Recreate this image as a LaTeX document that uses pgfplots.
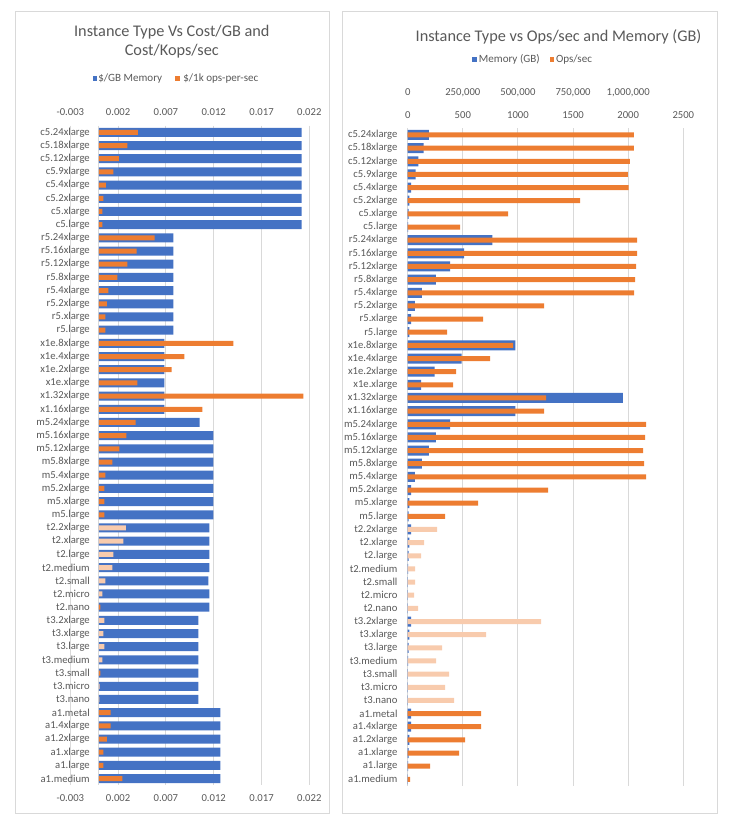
\documentclass[border=0pt]{standalone}
\usepackage{pgfplots}
\pgfplotsset{compat=1.18}
\usepackage{fontspec}
\setmainfont{Carlito}

\definecolor{xblue}{HTML}{4472C4}
\definecolor{xorange}{HTML}{ED7D31}
\definecolor{xpeach}{HTML}{F8CBAD}
\definecolor{txt}{HTML}{595959}
\definecolor{gridc}{HTML}{D9D9D9}

\pgfplotsset{
  excel/.style={
    scale only axis, anchor=north west,
    y dir=reverse, ymin=-0.5, ymax=49.5,
    scaled x ticks=false,
    axis line style={draw=none},
    tick style={draw=none},
    tick label style={font=\fontsize{8}{9}\selectfont, text=txt},
    xticklabel style={inner sep=0pt, anchor=base},
    major grid style={gridc, line width=0.75pt},
  },
  catlabels/.style={ytick={0,...,49},
    yticklabel style={anchor=east, inner sep=0pt},
    yticklabels={c5.24xlarge,c5.18xlarge,c5.12xlarge,c5.9xlarge,c5.4xlarge,c5.2xlarge,c5.xlarge,c5.large,
      r5.24xlarge,r5.16xlarge,r5.12xlarge,r5.8xlarge,r5.4xlarge,r5.2xlarge,r5.xlarge,r5.large,
      x1e.8xlarge,x1e.4xlarge,x1e.2xlarge,x1e.xlarge,x1.32xlarge,x1.16xlarge,
      m5.24xlarge,m5.16xlarge,m5.12xlarge,m5.8xlarge,m5.4xlarge,m5.2xlarge,m5.xlarge,m5.large,
      t2.2xlarge,t2.xlarge,t2.large,t2.medium,t2.small,t2.micro,t2.nano,
      t3.2xlarge,t3.xlarge,t3.large,t3.medium,t3.small,t3.micro,t3.nano,
      a1.metal,a1.4xlarge,a1.2xlarge,a1.xlarge,a1.large,a1.medium}},
}

\begin{document}
\begin{tikzpicture}
\path[use as bounding box] (0,0) rectangle (550.5pt,-618.75pt);

% panel frames
\draw[gridc, line width=0.75pt] (11.78pt,-8.25pt) rectangle (246.98pt,-609.98pt);
\draw[gridc, line width=0.75pt] (257pt,-8.78pt) rectangle (538.3pt,-610pt);

% ---------- left: $/GB (primary, bottom labels) ----------
\begin{axis}[excel, at={(52.73pt,-94.28pt)}, width=179.25pt, height=494.6pt,
  xmin=-0.003, xmax=0.022,
  xtick={-0.003,0,0.002,0.007,0.012,0.017,0.022},
  xticklabels={-0.003,,0.002,0.007,0.012,0.017,0.022},
  xticklabel shift=12.5pt,
  xmajorgrids, catlabels, yticklabel style={xshift=14.8pt}]
\addplot[xbar, bar shift=0pt, bar width=6.75pt, fill=xblue, draw=none] coordinates {
  (0.0212,0) (0.0212,1) (0.0212,2) (0.0212,3) (0.0212,4) (0.0212,5) (0.0212,6) (0.0212,7)
  (0.00778,8) (0.00778,9) (0.00778,10) (0.00778,11) (0.00778,12) (0.00778,13) (0.00778,14) (0.00778,15)
  (0.00684,16) (0.00684,17) (0.00684,18) (0.00684,19) (0.00684,20) (0.00684,21)
  (0.01054,22) (0.01196,23) (0.01196,24) (0.01196,25) (0.01196,26) (0.01196,27) (0.01196,28) (0.01196,29)
  (0.01155,30) (0.01155,31) (0.01155,32) (0.01155,33) (0.01144,34) (0.01155,35) (0.01155,36)
  (0.0104,37) (0.0104,38) (0.0104,39) (0.0104,40) (0.0104,41) (0.0104,42) (0.0104,43)
  (0.0127,44) (0.0127,45) (0.0127,46) (0.0127,47) (0.0127,48) (0.0127,49)
};
\end{axis}

% ---------- left: $/1k ops (secondary, top labels) ----------
\begin{axis}[excel, at={(52.73pt,-94.28pt)}, width=179.25pt, height=494.6pt,
  xmin=-0.003, xmax=0.022,
  xtick={-0.003,0.002,0.007,0.012,0.017,0.022},
  xticklabels={-0.003,0.002,0.007,0.012,0.017,0.022},
  xticklabel pos=right, xticklabel shift=7.5pt, ytick=\empty]
\addplot[xbar, bar shift=0pt, bar width=3.75pt, fill=xorange, draw=none] coordinates {
  (0.00406,0) (0.00298,1) (0.00207,2) (0.00151,3) (0.00071,4) (0.00047,5) (0.00036,6) (0.00036,7)
  (0.00583,8) (0.00395,9) (0.00298,10) (0.00193,11) (0.00099,12) (0.00082,13) (0.00068,14) (0.00068,15)
  (0.01405,16) (0.00893,17) (0.0076,18) (0.00402,19) (0.02137,20) (0.01081,21)
  (0.00384,22) (0.00287,23) (0.00214,24) (0.00141,25) (0.00068,26) (0.00057,27) (0.00057,28) (0.00057,29)
  (0.00015,36) (0.00015,41)
  (0.00123,44) (0.00123,45) (0.00082,46) (0.00047,47) (0.00047,48) (0.00245,49)
};
\addplot[xbar, bar shift=0pt, bar width=3.75pt, fill=xpeach, draw=none] coordinates {
  (0.0028,30) (0.00256,31) (0.00151,32) (0.00141,33) (0.00068,34) (0.00036,35)
  (0.00057,37) (0.00047,38) (0.00057,39) (0.00036,40) (0.00006,42) (0.00003,43)
};
\end{axis}

% ---------- right: Memory (GB), primary ----------
\begin{axis}[excel, at={(305.78pt,-96.3pt)}, width=206.7pt, height=493.1pt,
  xmin=0, xmax=2500,
  xtick={0,500,1000,1500,2000,2500},
  xticklabels={0,500,1000,1500,2000,2500},
  xticklabel pos=right, xticklabel shift=7.5pt,
  xmajorgrids, catlabels, yticklabel style={xshift=-7.5pt}]
\addplot[xbar, bar shift=0pt, bar width=7.5pt, fill=xblue, draw=none] coordinates {
  (192,0) (144,1) (96,2) (72,3) (32,4) (16,5) (8,6) (4,7)
  (768,8) (512,9) (384,10) (256,11) (128,12) (64,13) (32,14) (16,15)
  (976,16) (488,17) (244,18) (122,19) (1952,20) (976,21)
  (384,22) (256,23) (192,24) (128,25) (64,26) (32,27) (16,28) (8,29)
  (32,30) (16,31) (8,32) (4,33) (2,34) (1,35) (0.5,36)
  (32,37) (16,38) (8,39) (4,40) (2,41) (1,42) (0.5,43)
  (32,44) (32,45) (16,46) (8,47) (4,48) (2,49)
};
\end{axis}

% ---------- right: Ops/sec, secondary ----------
\begin{axis}[excel, at={(305.78pt,-96.3pt)}, width=206.7pt, height=493.1pt,
  xmin=0, xmax=1250000,
  xtick={0,250000,500000,750000,1000000},
  xticklabels={0,{250,000},{500,000},{750,000},{1,000,000}},
  xticklabel pos=right, xticklabel shift=25pt, ytick=\empty]
\addplot[xbar, bar shift=0pt, bar width=3.75pt, fill=xorange, draw=none] coordinates {
  (1026000,0) (1026000,1) (1008000,2) (999000,3) (1002000,4) (781500,5) (455000,6) (237300,7)
  (1040000,8) (1040000,9) (1035500,10) (1031000,11) (1026400,12) (618200,13) (341600,14) (178400,15)
  (477700,16) (373400,17) (219200,18) (205600,19) (627300,20) (618200,21)
  (1080800,22) (1076300,23) (1067200,24) (1071700,25) (1080800,26) (636400,27) (319000,28) (169300,29)
  (332600,44) (332600,45) (260000,46) (232800,47) (101300,48) (10600,49)
};
\addplot[xbar, bar shift=0pt, bar width=3.75pt, fill=xpeach, draw=none] coordinates {
  (133000,30) (74100,31) (60500,32) (33300,33) (33300,34) (28700,35) (46900,36)
  (604600,37) (355200,38) (155700,39) (128500,40) (187400,41) (169300,42) (210100,43)
};
\end{axis}

% titles
\node[anchor=base, inner sep=0pt, text=txt, font=\fontsize{12.2}{14}\selectfont] at (128.85pt,-27pt) {Instance Type Vs Cost/GB and};
\node[anchor=base, inner sep=0pt, text=txt, font=\fontsize{12.2}{14}\selectfont] at (128.85pt,-41.25pt) {Cost/Kops/sec};
\node[anchor=base, inner sep=0pt, text=txt, font=\fontsize{12.2}{14}\selectfont] at (418.9pt,-31.3pt) {Instance Type vs Ops/sec and Memory (GB)};

% legends
\fill[xblue] (69.4pt,-57pt) rectangle ++(3.4pt,-3.4pt);
\node[anchor=base west, inner sep=0pt, text=txt, font=\fontsize{8.3}{10}\selectfont] at (73.5pt,-61.3pt) {\$/GB Memory};
\fill[xorange] (131.25pt,-57pt) rectangle ++(3.4pt,-3.4pt);
\node[anchor=base west, inner sep=0pt, text=txt, font=\fontsize{8.3}{10}\selectfont] at (137.25pt,-61.3pt) {\$/1k ops-per-sec};
\fill[xblue] (354.2pt,-43pt) rectangle ++(3.4pt,-3.4pt);
\node[anchor=base west, inner sep=0pt, text=txt, font=\fontsize{8.3}{10}\selectfont] at (359pt,-46.5pt) {Memory (GB)};
\fill[xorange] (412.3pt,-43pt) rectangle ++(3.4pt,-3.4pt);
\node[anchor=base west, inner sep=0pt, text=txt, font=\fontsize{8.3}{10}\selectfont] at (416.8pt,-46.5pt) {Ops/sec};
\end{tikzpicture}
\end{document}
